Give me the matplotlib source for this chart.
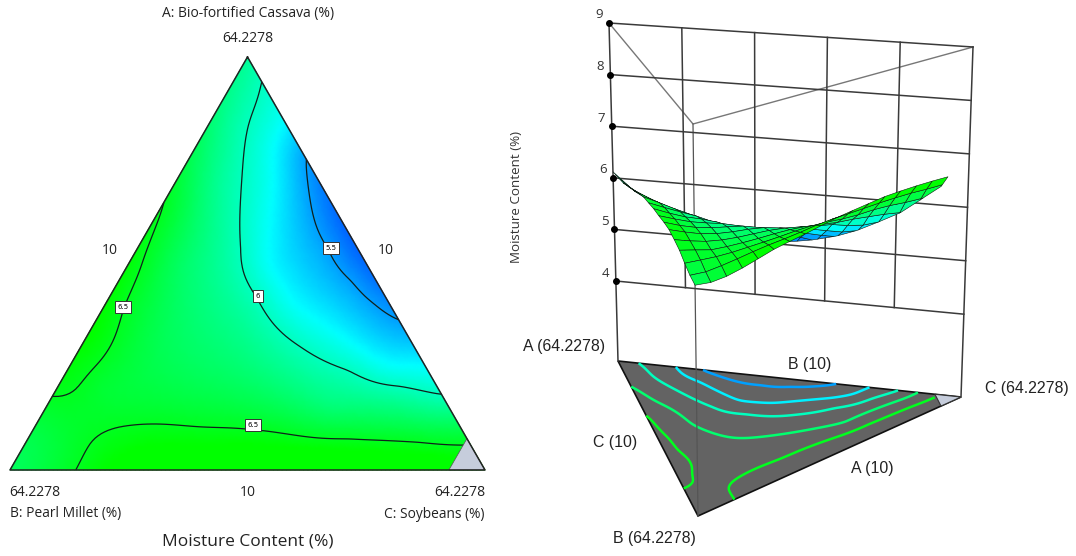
import numpy as np
import matplotlib
matplotlib.use('Agg')
import matplotlib.pyplot as plt
import matplotlib.tri as mtri
from matplotlib.collections import PolyCollection
from matplotlib.colors import LinearSegmentedColormap, Normalize

# ternary readings: a = share of A, c = share of C, b = 1 - a - c
line_55_a = [0.760, 0.649, 0.538, 0.460, 0.404, 0.363]
line_55_c = [0.240, 0.308, 0.405, 0.492, 0.566, 0.637]

line_60_a = [0.179, 0.206, 0.245, 0.300, 0.421, 0.538, 0.622, 0.794, 0.942]
line_60_c = [0.821, 0.718, 0.593, 0.461, 0.311, 0.219, 0.173, 0.098, 0.058]

left_65_a = [0.656, 0.511, 0.395, 0.262, 0.194, 0.172]
left_65_c = [0.000, 0.025, 0.041, 0.058, 0.044, 0.000]

low_65_a = [0.000, 0.065, 0.104, 0.111, 0.104, 0.097, 0.0775, 0.068, 0.058]
low_65_c = [0.139, 0.135, 0.173, 0.239, 0.348, 0.463, 0.677, 0.829, 0.923]

other_a = [1.00, 0.00, 0.00, 0.00, 0.00, 0.00, 0.00, 0.00, 0.00,
           0.08, 0.13, 0.33, 0.50, 0.80,
           0.90, 0.85, 0.60, 0.45, 0.27, 0.12, 0.0775,
           0.50, 0.70, 0.85, 0.30, 0.20, 0.15, 0.05, 0.33, 0.20, 0.15, 0.05, 0.05,
           0.50, 0.70, 0.40, 0.30, 0.25, 0.55, 0.50]
other_c = [0.00, 0.00, 1.00, 0.07, 0.30, 0.50, 0.70, 0.85, 0.924,
           0.00, 0.00, 0.00, 0.00, 0.00,
           0.10, 0.15, 0.40, 0.55, 0.73, 0.88, 0.9225,
           0.10, 0.08, 0.05, 0.20, 0.10, 0.30, 0.05, 0.33, 0.50, 0.60, 0.40, 0.70,
           0.30, 0.20, 0.40, 0.60, 0.68, 0.43, 0.47]
other_z = [6.12, 6.30, 6.70, 6.40, 6.72, 6.78, 6.78, 6.73, 6.70,
           6.36, 6.42, 6.62, 6.58, 6.30,
           5.93, 5.82, 5.32, 5.36, 5.75, 6.28, 6.45,
           6.30, 6.15, 6.07, 6.30, 6.42, 6.42, 6.38, 6.15, 6.20, 6.22, 6.62, 6.58,
           5.78, 5.83, 5.80, 5.75, 5.80, 5.36, 5.40]

contour_levels = [5.5, 6.0, 6.5]
floor_levels = [5.5, 5.75, 6.0, 6.25, 6.5]
z_ticks = [4, 5, 6, 7, 8, 9]
c_max = 0.924

# where things sit in the image (pixels)
TOP, LEFT, RIGHT = (248, 57), (10, 470), (485, 470)
FLOOR_A, FLOOR_B, FLOOR_C = (618, 361), (698, 516), (961, 397)
ROOF_A, ROOF_B, ROOF_C = (609, 23), (693, 124), (973, 47)
Z_FLOOR, Z_ROOF = 2.45, 9.0
SMOOTH = 2e-3

a_all = np.array(line_55_a + line_60_a + left_65_a + low_65_a + other_a)
c_all = np.array(line_55_c + line_60_c + left_65_c + low_65_c + other_c)
z_all = np.array([5.5] * len(line_55_a) + [6.0] * len(line_60_a)
                 + [6.5] * (len(left_65_a) + len(low_65_a)) + other_z)


def kernel(a1, c1, a2, c2):
    # thin plate kernel in the plane of the triangle
    dx = (c1[:, None] + a1[:, None] / 2) - (c2[None, :] + a2[None, :] / 2)
    dy = (a1[:, None] - a2[None, :]) * 0.87
    r2 = dx ** 2 + dy ** 2
    return 0.5 * r2 * np.log(r2 + 1e-12)


n_pts = len(a_all)
poly_all = np.column_stack([np.ones(n_pts), a_all, c_all])
system = np.zeros((n_pts + 3, n_pts + 3))
system[:n_pts, :n_pts] = kernel(a_all, c_all, a_all, c_all) + SMOOTH * np.eye(n_pts)
system[:n_pts, n_pts:] = poly_all
system[n_pts:, :n_pts] = poly_all.T
weights = np.linalg.solve(system, np.concatenate([z_all, np.zeros(3)]))


def moisture(a, c):
    a, c = np.ravel(a).astype(float), np.ravel(c).astype(float)
    k = kernel(a, c, a_all, c_all)
    return k @ weights[:n_pts] + weights[n_pts] + weights[n_pts + 1] * a + weights[n_pts + 2] * c


def flat_xy(a, c):
    a, c = np.asarray(a, float), np.asarray(c, float)
    x = LEFT[0] + (RIGHT[0] - LEFT[0]) * (c + a / 2)
    y = LEFT[1] - (LEFT[1] - TOP[1]) * a
    return x, y


def view_xy(a, c, z):
    a, c, z = np.asarray(a, float), np.asarray(c, float), np.asarray(z, float)
    b = 1 - a - c
    t = (z - Z_FLOOR) / (Z_ROOF - Z_FLOOR)
    out = []
    for i in range(2):
        low = a * FLOOR_A[i] + b * FLOOR_B[i] + c * FLOOR_C[i]
        high = a * ROOF_A[i] + b * ROOF_B[i] + c * ROOF_C[i]
        out.append(low + t * (high - low))
    return out


def cut_corner(poly):
    # keep the part of a cell inside a + c <= 1
    kept = []
    for k in range(len(poly)):
        p, q = poly[k], poly[(k + 1) % len(poly)]
        sp, sq = 1 - p[0] - p[1], 1 - q[0] - q[1]
        if sp >= 0:
            kept.append(p)
        if sp * sq < 0:
            s = sp / (sp - sq)
            kept.append((p[0] + s * (q[0] - p[0]), p[1] + s * (q[1] - p[1])))
    return kept


cmap = LinearSegmentedColormap.from_list('de', ['#0000ff', '#00ffff', '#00ff00'])
norm = Normalize(5.0, 6.6)

fig = plt.figure(figsize=(10.76, 5.56), dpi=100)
ax = fig.add_axes([0, 0, 1, 1])
ax.set_xlim(0, 1076)
ax.set_ylim(556, 0)
ax.axis('off')

# regular mesh over the whole triangle
steps = 110
mesh_a, mesh_c = [], []
for i in range(steps + 1):
    for j in range(steps + 1 - i):
        mesh_a.append(i / steps)
        mesh_c.append(j / steps)
mesh_a, mesh_c = np.array(mesh_a), np.array(mesh_c)
mesh_z = moisture(mesh_a, mesh_c)
mesh_x, mesh_y = flat_xy(mesh_a, mesh_c)
flat_tri = mtri.Triangulation(mesh_x, mesh_y)

# ternary map on the left
ax.tripcolor(flat_tri, mesh_z, shading='gouraud', cmap=cmap, norm=norm, zorder=1)
ax.tricontour(flat_tri, mesh_z, levels=contour_levels, colors='#10201c', linewidths=0.9, zorder=2)
gx, gy = flat_xy([0, 0, 1 - c_max], [1, c_max, c_max])
ax.fill(gx, gy, color='#c6cddc', ec='#555555', lw=0.5, zorder=3)
tx, ty = flat_xy([1, 0, 0, 1], [0, 0, 1, 0])
ax.plot(tx, ty, color='#222222', lw=1.1, zorder=4)

box = dict(boxstyle='square,pad=0.4', fc='white', ec='#333333', lw=0.7)
ax.text(123, 307, '6.5', fontsize=5, ha='center', va='center', bbox=box, zorder=5)
ax.text(258, 296, '6', fontsize=5, ha='center', va='center', bbox=box, zorder=5)
ax.text(331, 248, '5.5', fontsize=5, ha='center', va='center', bbox=box, zorder=5)
ax.text(253, 425, '6.5', fontsize=5, ha='center', va='center', bbox=box, zorder=5)

left_font = dict(family='Open Sans', color='#222222', ha='center', va='center')
ax.text(248, 13, 'A: Bio-fortified Cassava (%)', fontsize=10, **left_font)
ax.text(248, 38, '64.2278', fontsize=10, **left_font)
ax.text(110, 250, '10', fontsize=10, **left_font)
ax.text(386, 250, '10', fontsize=10, **left_font)
ax.text(35, 492, '64.2278', fontsize=10, **left_font)
ax.text(248, 492, '10', fontsize=10, **left_font)
ax.text(460, 492, '64.2278', fontsize=10, **left_font)
ax.text(66, 514, 'B: Pearl Millet (%)', fontsize=9.9, **left_font)
ax.text(434, 514, 'C: Soybeans (%)', fontsize=9.9, **left_font)
ax.text(248, 541, 'Moisture Content (%)', fontsize=12.5, **left_font)

# 3D view on the right: floor first, then walls, then the surface
wall = '#3a3a3a'
fa = view_xy([1, 0, 0], [0, 0, 1], [Z_FLOOR] * 3)
ax.fill(fa[0], fa[1], color='#636363', ec='#111111', lw=1.2, zorder=1)
gx, gy = view_xy([0, 0, 1 - c_max], [1, c_max, c_max], [Z_FLOOR] * 3)
ax.fill(gx, gy, color='#c6cddc', ec='#333333', lw=0.8, zorder=1.2)

vx, vy = view_xy(mesh_a, mesh_c, np.full(mesh_a.shape, Z_FLOOR))
floor_tri = mtri.Triangulation(vx, vy, flat_tri.triangles)
floor_tri.set_mask(mesh_c[flat_tri.triangles].max(axis=1) > c_max)
ax.tricontour(floor_tri, mesh_z, levels=floor_levels, cmap=cmap, norm=norm, linewidths=1.8, zorder=1.5)

# thin back lines
px, py = view_xy([1, 0, 0], [0, 0, 1], [Z_ROOF] * 3)
ax.plot(px, py, color='#777777', lw=1, zorder=1.6)
px, py = view_xy([0, 0], [0, 0], [Z_FLOOR, Z_ROOF])
ax.plot(px, py, color='#555555', lw=0.9, zorder=1.6)

for share in [0, 0.2, 0.4, 0.6, 0.8, 1]:
    s = 1 - share
    lo = min(z_ticks) if 0 < share < 1 else Z_FLOOR
    px, py = view_xy([s, s], [share, share], [lo, Z_ROOF])
    ax.plot(px, py, color=wall, lw=1.1, zorder=1.7)
for tick in z_ticks:
    px, py = view_xy([1, 0], [0, 1], [tick, tick])
    ax.plot(px, py, color=wall, lw=1.1, zorder=1.7)
    ax.plot(px[0], py[0], 'o', color='black', ms=4, zorder=1.8)
    ax.text(px[0] - 10, py[0] - 8, str(tick), fontsize=9.5, family='Open Sans',
            color='#333333', ha='center', va='center')

grid_a = np.linspace(0, 1, 17)
grid_c = np.linspace(0, c_max, 17)
cells = []
for i in range(16):
    for j in range(16):
        poly = [(grid_a[i], grid_c[j]), (grid_a[i + 1], grid_c[j]),
                (grid_a[i + 1], grid_c[j + 1]), (grid_a[i], grid_c[j + 1])]
        poly = cut_corner(poly)
        if len(poly) >= 3:
            cells.append(poly)
# far cells (small b) first
cells.sort(key=lambda cell: np.mean([1 - p[0] - p[1] for p in cell]))

shapes, shades = [], []
for cell in cells:
    pa = np.array([p[0] for p in cell])
    pc = np.array([p[1] for p in cell])
    pb = np.clip(1 - pa - pc, 0, 1)
    qz = moisture(pa, pc)
    # the drawn surface sits a little lower than the flat map along BC, AC and near A
    drop = 2.4 * pc * pb ** 3 + 1.5 * pc ** 2 * pa + 5 * pc * pa ** 5
    sx, sy = view_xy(pa, pc, qz - drop)
    shapes.append(np.column_stack([sx, sy]))
    shades.append(cmap(norm(qz.mean())))
ax.add_collection(PolyCollection(shapes, facecolors=shades, edgecolors='#0c1a10',
                                 linewidths=0.4, zorder=2))

ax.text(516, 197, 'Moisture Content (%)', fontsize=9.6, family='Open Sans', color='#333333',
        rotation=90, ha='center', va='center')
right_font = dict(family='Liberation Sans', fontsize=11.4, color='#222222', ha='center', va='center')
ax.text(564, 347, 'A (64.2278)', **right_font)
ax.text(1027, 388, 'C (64.2278)', **right_font)
ax.text(654, 539, 'B (64.2278)', **right_font)
ax.text(810, 364, 'B (10)', **right_font)
ax.text(615, 442, 'C (10)', **right_font)
ax.text(872, 468, 'A (10)', **right_font)

fig.savefig('out.png', dpi=100)
